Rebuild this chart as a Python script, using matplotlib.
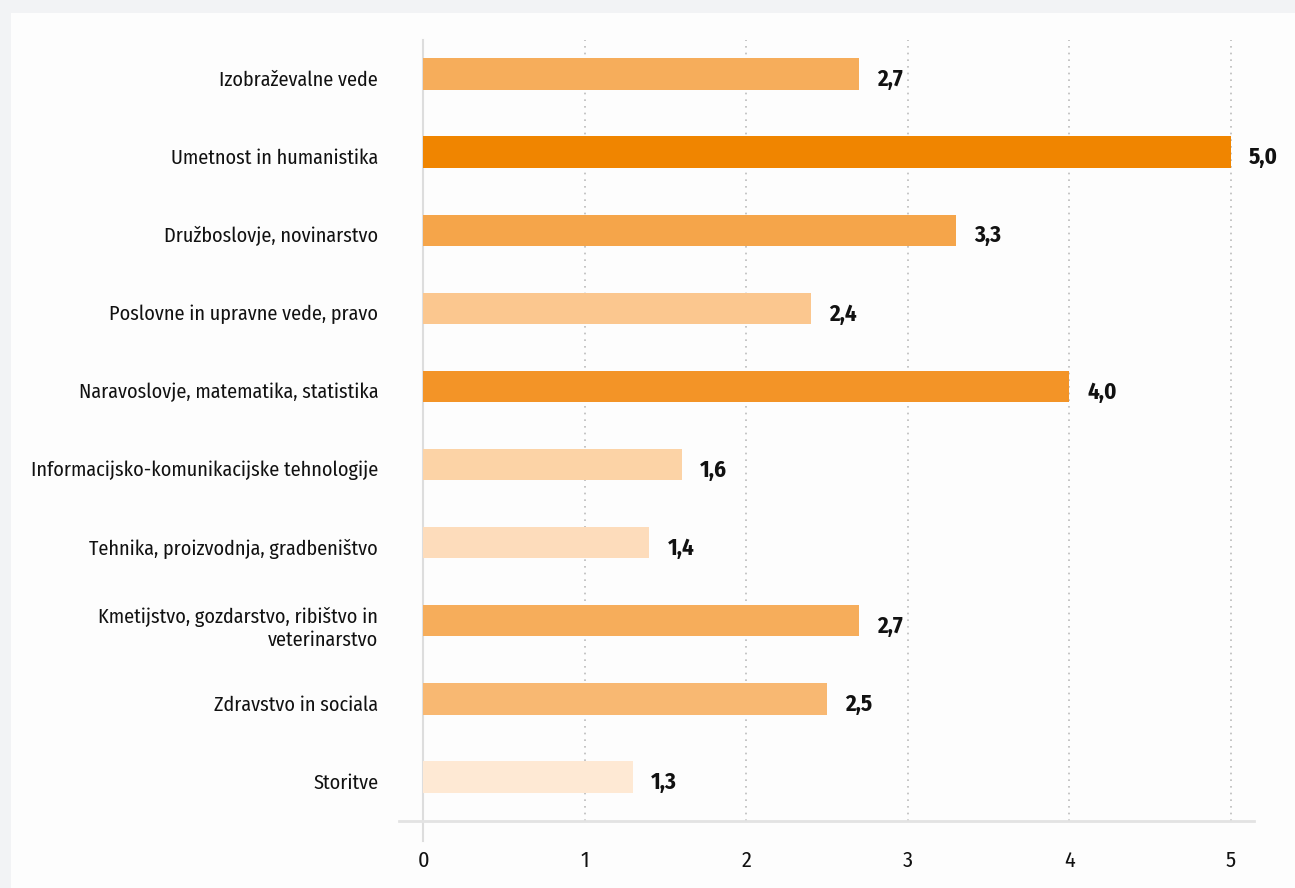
import matplotlib
matplotlib.use("Agg")
import matplotlib.pyplot as plt
import matplotlib.transforms as mtransforms
from matplotlib import font_manager

categories = [
    "Izobraževalne vede",
    "Umetnost in humanistika",
    "Družboslovje, novinarstvo",
    "Poslovne in upravne vede, pravo",
    "Naravoslovje, matematika, statistika",
    "Informacijsko-komunikacijske tehnologije",
    "Tehnika, proizvodnja, gradbeništvo",
    "Kmetijstvo, gozdarstvo, ribištvo in\nveterinarstvo",
    "Zdravstvo in sociala",
    "Storitve",
]
values = [2.7, 5.0, 3.3, 2.4, 4.0, 1.6, 1.4, 2.7, 2.5, 1.3]
value_labels = ["2,7", "5,0", "3,3", "2,4", "4,0", "1,6", "1,4", "2,7", "2,5", "1,3"]
colors = ["#f6ad5b", "#f08500", "#f5a54a", "#fbc78f", "#f39427",
          "#fcd3a6", "#fddcbb", "#f6ad5b", "#f8b872", "#fee9d4"]
xticks = [0, 1, 2, 3, 4, 5]

names = {f.name for f in font_manager.fontManager.ttflist}
family = next((f for f in ["Fira Sans Condensed", "PT Sans Narrow", "Roboto Condensed"] if f in names),
              "DejaVu Sans")
plt.rcParams["font.family"] = [family, "DejaVu Sans"]

W, H = 1295, 888
fig = plt.figure(figsize=(W / 100, H / 100), dpi=100)
fig.patch.set_facecolor("#f2f3f5")
bg = fig.add_axes([11 / W, 0, 1 - 11 / W, 1 - 13 / H], zorder=0)
bg.set_facecolor("#fdfdfd")
bg.set_xticks([]); bg.set_yticks([])
for s in bg.spines.values():
    s.set_visible(False)

left, right = 399 / W, 1254 / W
top, bottom = 1 - 40 / H, 1 - 821 / H
ax = fig.add_axes([left, bottom, right - left, top - bottom], zorder=1)
ax.set_facecolor("none")

n = len(categories)
ypos = list(range(n))
ax.barh(ypos, values, height=0.4, color=colors, zorder=3)
ax.set_ylim(9.563, -0.435)
ax.set_xlim(-0.149, 5.142)

for y, v, lab in zip(ypos, values, value_labels):
    ax.annotate(lab, (v, y), xytext=(13, -4), textcoords="offset points",
                ha="left", va="center", fontsize=16.5, fontweight="bold", color="#111111")

ax.set_yticks(ypos)
ax.set_yticklabels(categories, fontsize=14.5, color="#111111", ha="right")
ax.tick_params(axis="y", length=0, pad=15)
shift = mtransforms.ScaledTranslation(0, -3 / 72, fig.dpi_scale_trans)
for lbl in ax.get_yticklabels():
    lbl.set_transform(lbl.get_transform() + shift)
ax.set_xticks(xticks)
ax.set_xticklabels([str(t) for t in xticks], fontsize=16, color="#111111")
ax.tick_params(axis="x", length=0, pad=21)

for t in xticks[1:]:
    ax.axvline(t, color="#bbbbbb", linestyle=(0, (1, 3)), linewidth=1.2, zorder=1)
ax.plot([0, 0], [-0.025, 1.0], transform=ax.get_xaxis_transform(), color="#dddddd",
        linewidth=1.5, clip_on=False, zorder=2)

for s in ["top", "right", "left"]:
    ax.spines[s].set_visible(False)
ax.spines["bottom"].set_color("#e3e3e3")
ax.spines["bottom"].set_linewidth(2)

fig.savefig("out.png", dpi=100, facecolor=fig.get_facecolor())
